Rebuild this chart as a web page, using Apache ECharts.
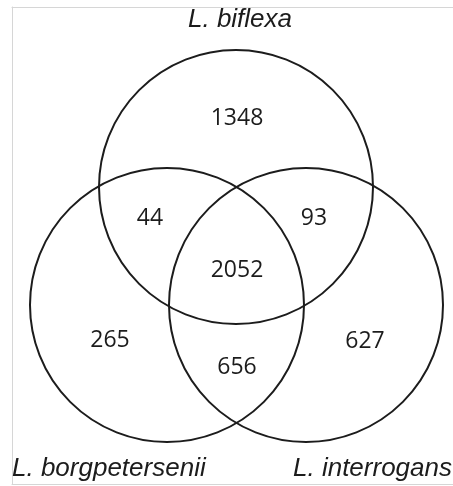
<!DOCTYPE html>
<html>
<head>
<meta charset="utf-8">
<script src="https://cdn.jsdelivr.net/npm/echarts@6/dist/echarts.min.js"></script>
<style>
  html, body { margin: 0; padding: 0; background: #fff; }
  #chart_block { width: 453px; height: 486px; }
</style>
</head>
<body>
<div id="chart_block"></div>
<script>
// sets (circle centre and radius in plot units, y grows downwards)
var setNames = ['L. biflexa', 'L. borgpetersenii', 'L. interrogans'];
var setX = [236, 167, 306];
var setY = [187, 305, 305];
var setR = [137, 137, 137];

// set name anchors
var nameX = [240, 12, 293];
var nameY = [20, 469, 469];
var nameAlign = ['center', 'left', 'left'];

// region counts and where they sit
var regionCounts = [1348, 44, 93, 2052, 265, 656, 627];
var regionX = [237, 150, 314, 237, 110, 237, 365];
var regionY = [118, 218, 218, 270, 340, 367, 341];

var chartDom = document.getElementById('chart_block');
var myChart = echarts.init(chartDom);

var circles = [];
for (var i = 0; i < setNames.length; i++) {
	circles.push([setX[i], setY[i], setR[i]]);
}
var regions = [];
for (var j = 0; j < regionCounts.length; j++) {
	regions.push([regionX[j], regionY[j], regionCounts[j]]);
}
var names = [];
for (var k = 0; k < setNames.length; k++) {
	names.push([nameX[k], nameY[k]]);
}

// only a thin frame on left, top and bottom
var frameLine = { show: true, lineStyle: { color: '#d6d6d6', width: 1 } };

var option = {
	animation: false,
	backgroundColor: '#fff',
	grid: {
		left: 12,
		top: 7,
		right: 0,
		bottom: 2
	},
	xAxis: [
		{ type: 'value', min: 12, max: 453, position: 'bottom', axisLine: frameLine,
		  axisTick: { show: false }, axisLabel: { show: false }, splitLine: { show: false } },
		{ type: 'value', min: 12, max: 453, position: 'top', axisLine: frameLine,
		  axisTick: { show: false }, axisLabel: { show: false }, splitLine: { show: false } }
	],
	yAxis: {
		type: 'value', min: 7, max: 484, inverse: true, position: 'left', axisLine: frameLine,
		axisTick: { show: false }, axisLabel: { show: false }, splitLine: { show: false }
	},
	series: [
		{
			name: 'sets',
			type: 'custom',
			clip: false,
			data: circles,
			renderItem: function (params, api) {
				var c = api.coord([api.value(0), api.value(1)]);
				var r = api.size([api.value(2), 0])[0];
				return {
					type: 'circle',
					shape: { cx: c[0], cy: c[1], r: r },
					style: { fill: null, stroke: '#1c1c1c', lineWidth: 2 }
				};
			}
		},
		{
			name: 'counts',
			type: 'custom',
			clip: false,
			data: regions,
			renderItem: function (params, api) {
				var c = api.coord([api.value(0), api.value(1)]);
				return {
					type: 'text',
					x: c[0],
					y: c[1],
					style: {
						text: String(api.value(2)),
						fill: '#1c1c1c',
						font: '23px "Open Sans", "Noto Sans", sans-serif',
						align: 'center',
						verticalAlign: 'middle'
					}
				};
			}
		},
		{
			name: 'names',
			type: 'custom',
			clip: false,
			data: names,
			renderItem: function (params, api) {
				var c = api.coord([api.value(0), api.value(1)]);
				return {
					type: 'text',
					x: c[0],
					y: c[1],
					style: {
						text: setNames[params.dataIndex],
						fill: '#1c1c1c',
						font: 'italic 26px "Liberation Sans", Arial, sans-serif',
						align: nameAlign[params.dataIndex],
						verticalAlign: 'middle'
					}
				};
			}
		}
	]
};

option && myChart.setOption(option);
</script>
</body>
</html>
